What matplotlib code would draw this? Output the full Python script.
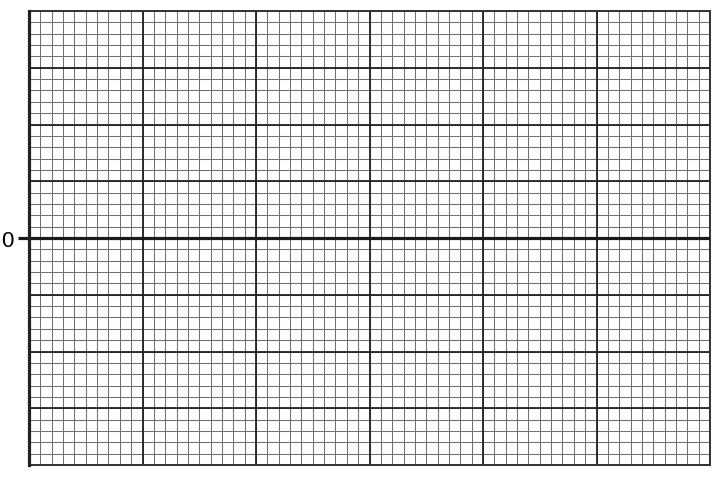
import matplotlib
matplotlib.use('Agg')
import matplotlib.pyplot as plt
import numpy as np

# graph paper: x 0..60 units, y -20..20 units
x_range = [0, 60]
y_range = [-20, 20]
x_minor_step = 1
x_major_step = 10
y_minor_step = 1
y_major_step = 5
y_tick_values = [0]
y_tick_labels = ['0']

plt.rcParams['font.family'] = ['Liberation Sans', 'DejaVu Sans']

fig = plt.figure(figsize=(7.28, 4.81), dpi=100)
ax = fig.add_axes([29 / 728, 1 - 466 / 481, 681 / 728, 454 / 481])

ax.set_xlim(x_range)
ax.set_ylim(y_range)

# minor grid
for xv in np.arange(x_range[0], x_range[1] + 1, x_minor_step):
    ax.axvline(xv, color='#707070', lw=0.75, zorder=1)
for yv in np.arange(y_range[0], y_range[1] + 1, y_minor_step):
    ax.axhline(yv, color='#707070', lw=0.75, zorder=1)

# major grid
for xv in np.arange(x_range[0], x_range[1] + 1, x_major_step):
    ax.axvline(xv, color='#222222', lw=1.3, zorder=2)
for yv in np.arange(y_range[0], y_range[1] + 1, y_major_step):
    ax.axhline(yv, color='#222222', lw=1.3, zorder=2)

# zero line
ax.axhline(0, color='#1a1a1a', lw=2.3, zorder=3)

for side in ['top', 'right', 'bottom']:
    ax.spines[side].set_linewidth(1.4)
    ax.spines[side].set_color('#333333')
ax.spines['left'].set_linewidth(2.3)
ax.spines['left'].set_color('#222222')
ax.spines['left'].set_zorder(4)

ax.set_xticks([])
ax.set_yticks(y_tick_values)
ax.set_yticklabels(y_tick_labels, fontsize=16)
ax.tick_params(axis='y', length=8, width=2.3, color='#1a1a1a', pad=3)

fig.savefig('out.png', dpi=100)
